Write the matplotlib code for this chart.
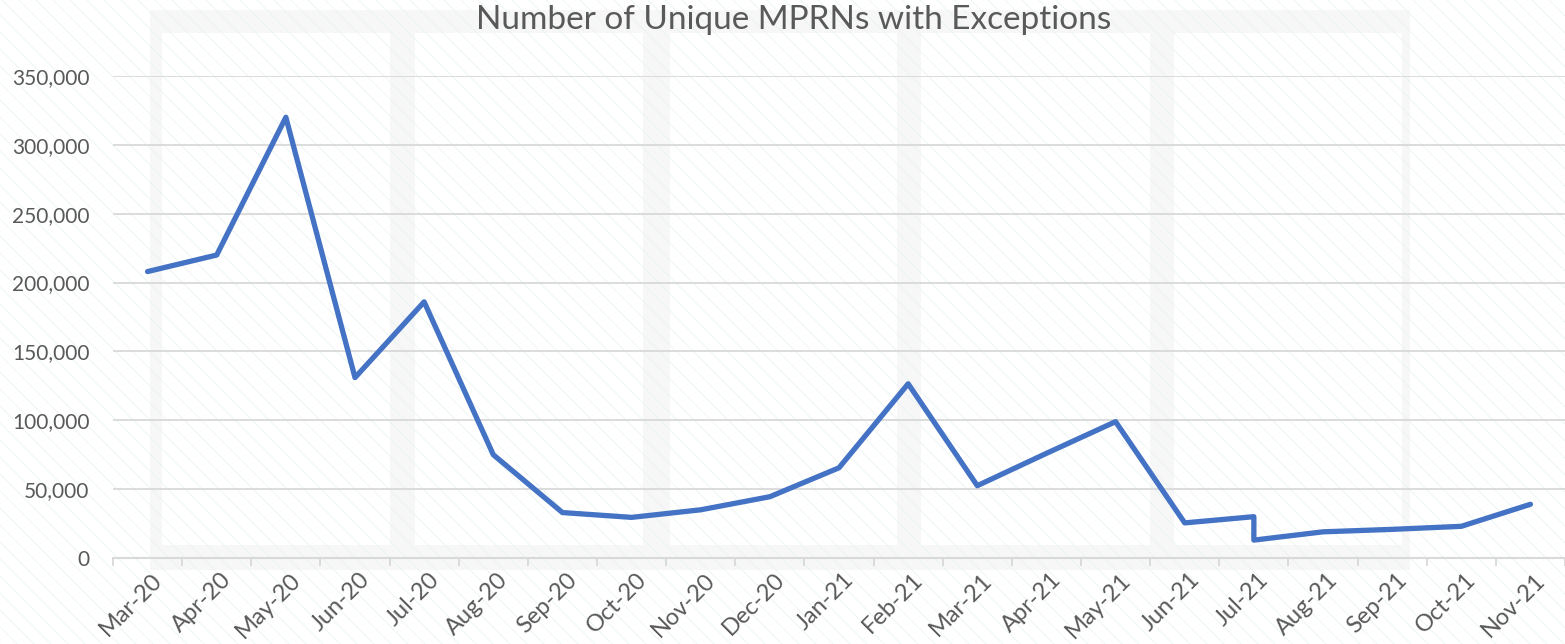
import numpy as np
import matplotlib
matplotlib.use("Agg")
import matplotlib.pyplot as plt
import matplotlib.transforms as mtransforms
from matplotlib.patches import Rectangle
from matplotlib.lines import Line2D
from matplotlib.ticker import FuncFormatter

plt.rcParams['font.family'] = ['Lato', 'DejaVu Sans']

# -- Data --
months = ['Mar-20', 'Apr-20', 'May-20', 'Jun-20', 'Jul-20', 'Aug-20', 'Sep-20',
          'Oct-20', 'Nov-20', 'Dec-20', 'Jan-21', 'Feb-21', 'Mar-21', 'Apr-21',
          'May-21', 'Jun-21', 'Jul-21', 'Aug-21', 'Sep-21', 'Oct-21', 'Nov-21']

# Jul-21 shows up twice (the line drops straight down there)
point_months = ['Mar-20', 'Apr-20', 'May-20', 'Jun-20', 'Jul-20', 'Aug-20', 'Sep-20',
                'Oct-20', 'Nov-20', 'Dec-20', 'Jan-21', 'Feb-21', 'Mar-21', 'Apr-21',
                'May-21', 'Jun-21', 'Jul-21', 'Jul-21', 'Aug-21', 'Sep-21', 'Oct-21', 'Nov-21']
mprn_counts = [208000, 220000, 320000, 131000, 186000, 75000, 33000,
               29500, 35000, 44500, 65500, 126500, 52500, 76000,
               99000, 25500, 30000, 13000, 19000, 20800, 23000, 39000]

y_ticks = [0, 50000, 100000, 150000, 200000, 250000, 300000, 350000]

title = 'Number of Unique MPRNs with Exceptions'
text_col = '#595959'
grid_col = '#d9d9d9'
line_col = '#4472C4'

W, H = 1565, 644
fig = plt.figure(figsize=(W / 100, H / 100), dpi=100)
fig.patch.set_facecolor('white')

def rect_px(x0, y0, x1, y1, color, z):
    # pixel box (top-left origin) -> figure fraction rectangle
    r = Rectangle((x0 / W, 1 - y1 / H), (x1 - x0) / W, (y1 - y0) / H,
                  transform=fig.transFigure, facecolor=color, edgecolor='none', zorder=z)
    fig.add_artist(r)

# -- faint background frame (watermark look) --
rect_px(150, 10, 1410, 570, '#f7f7f7', -20)
for x0, x1 in [(162, 390), (415, 643), (670, 897), (921, 1150), (1174, 1402)]:
    rect_px(x0, 33, x1, 545, 'white', -19)

# diagonal hatch lines, very faint
for x0 in np.arange(-H, W + 20, 17):
    fig.add_artist(Line2D([x0 / W, (x0 + H) / W], [1, 0], transform=fig.transFigure,
                          color='#e8f5f3', lw=0.6, zorder=-15))

# -- main axes --
ax = fig.add_axes([113 / W, 1 - 558 / H, (W - 113) / W, (558 - 76) / H])
ax.set_facecolor('none')

xs = [months.index(m) for m in point_months]
ax.plot(xs, mprn_counts, color=line_col, lw=3.8, solid_joinstyle='round',
        solid_capstyle='round', zorder=3)

ax.set_xlim(-0.5, len(months) - 0.5)
ax.set_ylim(0, 350000)
ax.set_yticks(y_ticks)
ax.yaxis.set_major_formatter(FuncFormatter(lambda v, p: f'{v:,.0f}'))
ax.grid(axis='y', color=grid_col, lw=1.3)
ax.set_axisbelow(True)

for s in ['left', 'right', 'top']:
    ax.spines[s].set_visible(False)
ax.spines['bottom'].set_color(grid_col)
ax.spines['bottom'].set_linewidth(1.5)

# ticks at category boundaries, labels at category centres
ax.set_xticks(np.arange(-0.5, len(months), 1))
ax.set_xticklabels([])
ax.tick_params(axis='x', which='major', length=5.5, width=1.3, color=grid_col)
ax.set_xticks(np.arange(len(months)), minor=True)
ax.set_xticklabels(months, minor=True, rotation=45, ha='right', rotation_mode='anchor')
ax.tick_params(axis='x', which='minor', length=0, pad=8, labelsize=17, labelcolor=text_col)
ax.tick_params(axis='y', length=0, pad=17, labelsize=15, labelcolor=text_col)

shift = mtransforms.ScaledTranslation(4 / 100, 0, fig.dpi_scale_trans)
for lbl in ax.get_xticklabels(minor=True):
    lbl.set_transform(lbl.get_transform() + shift)

fig.text(794 / W, 1 - 20 / H, title, ha='center', va='center', fontsize=24, color=text_col)

fig.savefig('out.png', dpi=100, facecolor='white')
